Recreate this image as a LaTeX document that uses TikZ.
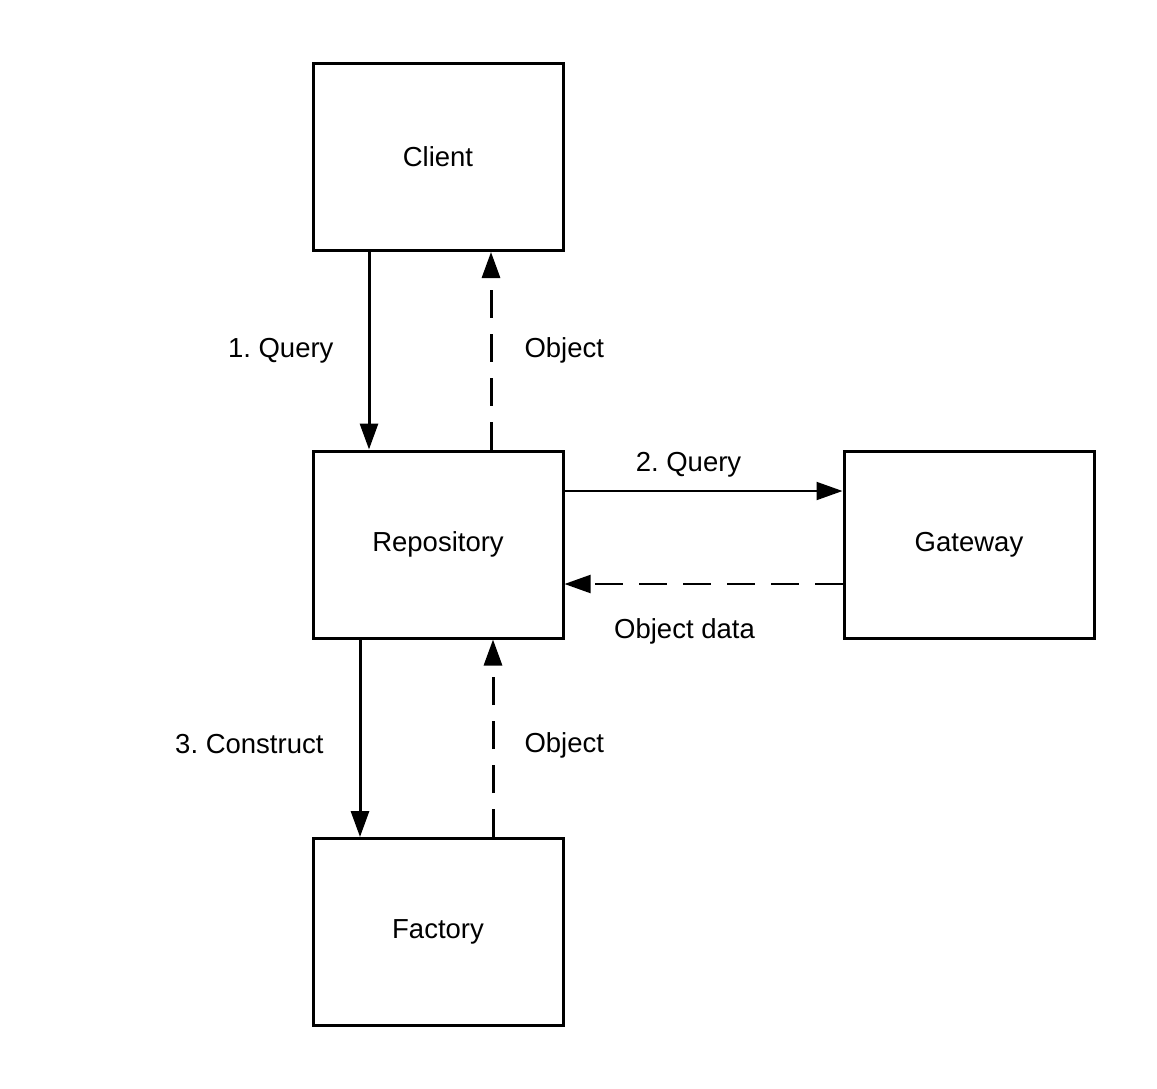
\documentclass[tikz,border=0pt]{standalone}
\usepackage{fontspec}
\setmainfont{Liberation Sans}
\usetikzlibrary{arrows.meta,positioning}
\frenchspacing

\begin{document}
\begin{tikzpicture}[node distance=193.75pt, x=0.5pt, y=-0.5pt,
  font=\fontsize{13.75}{16}\selectfont,
  box/.style={draw, rectangle, line width=1.5pt, minimum width=125pt, minimum height=93.5pt},
  call/.style={-{Triangle[length=13pt, width=9pt]}},
  reply/.style={call, dash pattern=on 14pt off 8pt},
  lbl/.style={inner sep=0pt}]
  \useasboundingbox (0,0) rectangle (1157,1088);

  \node[box] (client) at (438,157) {Client};
  \node[box, below of=client] (repo) {Repository};
  \node[box, right of=repo, node distance=265.5pt] (gateway) {Gateway};
  \node[box, below of=repo] (factory) {Factory};

  \draw[call, line width=1.5pt] ([xshift=-34.5pt]client.south) -- node[lbl, left=17pt] {1. Query} ([xshift=-34.5pt]repo.north);
  \draw[reply, line width=1.5pt] ([xshift=26.5pt]repo.north) -- node[lbl, right=16pt] {Object} ([xshift=26.5pt]client.south);
  \draw[call, line width=1pt] ([yshift=26.75pt]repo.east) -- node[lbl, above=6.5pt, xshift=-7.5pt] {2. Query} ([yshift=26.75pt]gateway.west);
  \draw[reply, line width=1pt] ([yshift=-19.75pt]gateway.west) -- node[lbl, below=17pt, xshift=-9.5pt] {Object data} ([yshift=-19.75pt]repo.east);
  \draw[call, line width=1.5pt] ([xshift=-39pt]repo.south) -- node[lbl, left=17.5pt, yshift=-3pt] {3. Construct} ([xshift=-39pt]factory.north);
  \draw[reply, line width=1.5pt] ([xshift=27.5pt]factory.north) -- node[lbl, right=15pt, yshift=-3.5pt] {Object} ([xshift=27.5pt]repo.south);
\end{tikzpicture}
\end{document}
